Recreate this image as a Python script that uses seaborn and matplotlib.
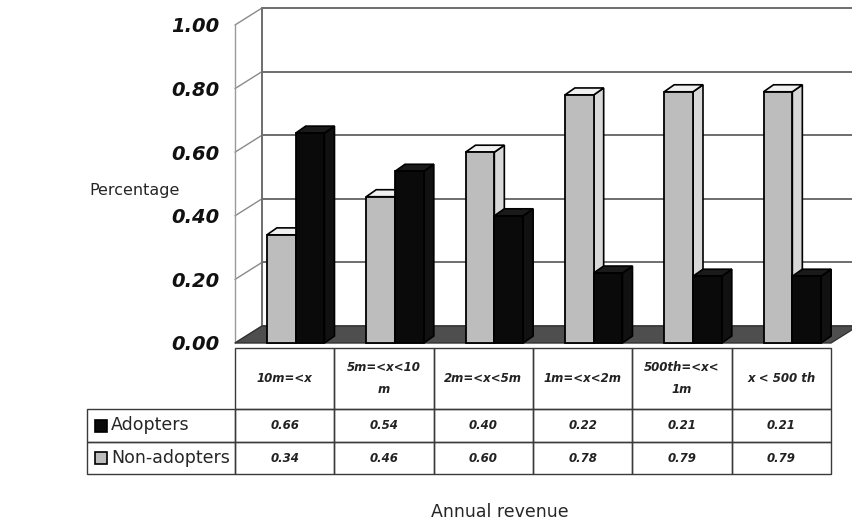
import pandas as pd
import matplotlib
matplotlib.use("Agg")
import matplotlib.pyplot as plt
import seaborn as sns
from matplotlib.patches import Rectangle, Polygon

# data
categories = ["10m=<x", "5m=<x<10\nm", "2m=<x<5m", "1m=<x<2m", "500th=<x<\n1m", "x < 500 th"]
adopters = [0.66, 0.54, 0.40, 0.22, 0.21, 0.21]
non_adopters = [0.34, 0.46, 0.60, 0.78, 0.79, 0.79]
series = ["Non-adopters", "Adopters"]
colors = {"Non-adopters": "#bdbdbd", "Adopters": "#0a0a0a"}
yticks = [0, 0.2, 0.4, 0.6, 0.8, 1.0]

df = pd.DataFrame({
    "revenue": categories * 2,
    "group": ["Non-adopters"] * 6 + ["Adopters"] * 6,
    "value": non_adopters + adopters,
})

W, H = 853, 526
sns.set_style("white")
fig = plt.figure(figsize=(W / 100, H / 100), dpi=100)

# front plane of the chart: x 235..831 px, y 343 (0) .. 25 (1.0)
L, R, B, T = 235, 831, 343, 25
ax = fig.add_axes([L / W, 1 - B / H, (R - L) / W, (B - T) / H])
ax.set_xlim(-0.5, 5.5)
ax.set_ylim(0, 1.0)
px = 6 / (R - L)           # data units per pixel in x
py = 1.0 / (B - T)         # data units per pixel in y

sns.barplot(data=df, x="revenue", y="value", hue="group", hue_order=series,
            order=categories, palette=colors, width=0.58, edgecolor="black",
            linewidth=1.3, legend=False, ax=ax)

# back wall / floor offsets (fake 3D)
wdx, wdy = 27 * px, 17 * py
x0w, x1w = -0.5 + wdx, 5.5 + wdx
for v in yticks:
    ax.plot([x0w, x1w], [v + wdy, v + wdy], color="#6e6e6e", lw=1.4,
            clip_on=False, zorder=1)
    ax.plot([-0.5, x0w], [v, v + wdy], color="#8a8a8a", lw=1.0,
            clip_on=False, zorder=1)
ax.plot([x0w, x0w], [wdy, 1 + wdy], color="#6e6e6e", lw=1.4, clip_on=False, zorder=1)
ax.plot([-0.5, -0.5], [0, 1], color="#9a9a9a", lw=1.0, clip_on=False, zorder=1)
ax.add_patch(Polygon([(-0.5, 0), (5.5, 0), (x1w, wdy), (x0w, wdy)], closed=True,
                     facecolor="#4e4e4e", edgecolor="#333333", lw=1.0,
                     clip_on=False, zorder=1.5))

# shift bars to mid depth and give them a top and side face
bdx, bdy = 10 * px, 7 * py
shift = 11 * px
for bar in ax.patches[:12]:
    bar.set_x(bar.get_x() + shift)
    bar.set_zorder(4)
    bar.set_clip_on(False)
    x0, w, h = bar.get_x(), bar.get_width(), bar.get_height()
    dark = bar.get_facecolor()[0] < 0.5
    top = Polygon([(x0, h), (x0 + bdx, h + bdy), (x0 + w + bdx, h + bdy), (x0 + w, h)],
                  closed=True, facecolor="#1a1a1a" if dark else "#f0f0f0",
                  edgecolor="black", lw=1.2, zorder=3, clip_on=False)
    side = Polygon([(x0 + w, 0), (x0 + w + bdx, bdy), (x0 + w + bdx, h + bdy), (x0 + w, h)],
                   closed=True, facecolor="#111111" if dark else "#d8d8d8",
                   edgecolor="black", lw=1.2, zorder=3, clip_on=False)
    ax.add_patch(side)
    ax.add_patch(top)

ax.set_yticks(yticks)
ax.set_yticklabels([f"{t:.2f}" for t in yticks], fontsize=14,
                   fontweight="bold", fontstyle="italic", color="#111111")
ax.tick_params(axis="y", length=5, width=1.0, color="#888888", pad=6)
ax.set_xticks([])
ax.set_xlabel("")
ax.set_ylabel("")
for s in ax.spines.values():
    s.set_visible(False)
ax.patch.set_alpha(0)

fig.text(135 / W, 1 - 190 / H, "Percentage", fontsize=11.5, ha="center", va="center")
fig.text(500 / W, 1 - 512 / H, "Annual revenue", fontsize=12.5, ha="center", va="center")

# data table under the plot, drawn in pixel coordinates
tax = fig.add_axes([0, 0, 1, 1])
tax.set_xlim(0, W)
tax.set_ylim(H, 0)
tax.axis("off")

col_w = (R - L) / len(categories)
rows_y = [348, 409, 442, 474]
lab_x0 = 87
ec = "#3a3a3a"
cell_font = dict(fontsize=8.5, fontweight="bold", fontstyle="italic", color="#222222")

for i, cat in enumerate(categories):
    cx = L + i * col_w
    tax.add_patch(Rectangle((cx, rows_y[0]), col_w, rows_y[1] - rows_y[0],
                            fill=False, edgecolor=ec, lw=1.0))
    tax.text(cx + col_w / 2, (rows_y[0] + rows_y[1]) / 2, cat, ha="center",
             va="center", linespacing=1.9, **cell_font)

row_names = ["Adopters", "Non-adopters"]
row_vals = [adopters, non_adopters]
for r, (name, vals) in enumerate(zip(row_names, row_vals)):
    y0, y1 = rows_y[r + 1], rows_y[r + 2]
    tax.add_patch(Rectangle((lab_x0, y0), L - lab_x0, y1 - y0, fill=False,
                            edgecolor=ec, lw=1.0))
    tax.add_patch(Rectangle((lab_x0 + 8, (y0 + y1) / 2 - 6), 12, 12,
                            facecolor=colors[name], edgecolor="black", lw=1.2))
    tax.text(lab_x0 + 24, (y0 + y1) / 2, name, ha="left", va="center", fontsize=12.5)
    for i, v in enumerate(vals):
        cx = L + i * col_w
        tax.add_patch(Rectangle((cx, y0), col_w, y1 - y0, fill=False,
                                edgecolor=ec, lw=1.0))
        tax.text(cx + col_w / 2, (y0 + y1) / 2, f"{v:.2f}", ha="center",
                 va="center", **cell_font)

fig.savefig("out.png", dpi=100)
